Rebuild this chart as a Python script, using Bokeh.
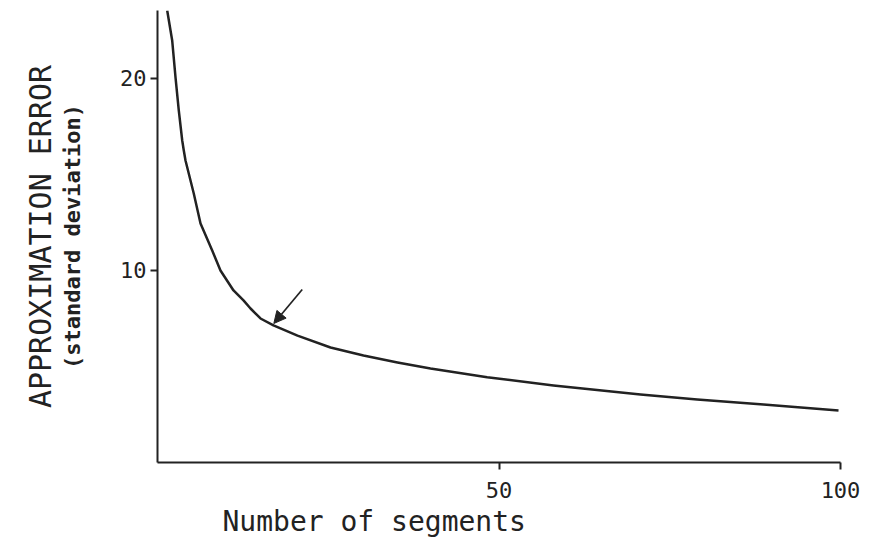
from bokeh.plotting import figure
from bokeh.models import Range1d, FixedTicker, Title, Arrow, NormalHead, ColumnDataSource, LinearAxis
from bokeh.embed import file_html
from bokeh.resources import INLINE

# Data
segments = [1.42, 2.15, 2.64, 3.12, 3.62, 3.85, 4.10, 5.31, 6.30, 8.01, 9.22, 11.13, 12.59, 13.62,
            15.08, 16.98, 20.5, 25.33, 30.16, 35.14, 39.97, 48.27, 57.98, 70.72, 79.02, 88.73, 99.71]
error = [23.54, 21.98, 20.05, 18.33, 16.77, 16.25, 15.73, 14.01, 12.45, 11.04, 10.0, 8.96, 8.44, 8.02,
         7.5, 7.14, 6.61, 5.99, 5.57, 5.21, 4.90, 4.44, 4.01, 3.54, 3.28, 3.02, 2.71]
x_ticks = [50, 100]
y_ticks = [10, 20]
arrow_from = (21.19, 9.01)
arrow_to = (17.03, 7.24)

FONT = "DejaVu Sans Mono"
INK = "#222222"

p = figure(frame_width=683, frame_height=452,
           x_range=Range1d(0, 100), y_range=Range1d(0, 23.54),
           output_backend="svg", toolbar_location=None,
           min_border_left=157, min_border_top=10, min_border_right=24, min_border_bottom=75)
p.background_fill_color = "white"
p.border_fill_color = "white"
p.outline_line_color = None
p.grid.visible = False

src = ColumnDataSource(dict(x=segments, y=error))
p.line("x", "y", source=src, line_color=INK, line_width=2.5, line_join="round")

p.add_layout(Arrow(end=NormalHead(size=12, fill_color=INK, line_color=INK),
                   x_start=arrow_from[0], y_start=arrow_from[1],
                   x_end=arrow_to[0], y_end=arrow_to[1],
                   line_color=INK, line_width=1.7))

for ax in (p.xaxis[0], p.yaxis[0]):
    ax.axis_line_color = INK
    ax.axis_line_width = 2
    ax.major_tick_line_color = INK
    ax.major_tick_line_width = 2
    ax.major_tick_in = 0
    ax.major_tick_out = 7
    ax.minor_tick_line_color = None
    ax.major_label_text_font = FONT
    ax.major_label_text_font_size = "22px"
    ax.major_label_text_color = INK

p.xaxis[0].ticker = FixedTicker(ticks=x_ticks)
p.yaxis[0].ticker = FixedTicker(ticks=y_ticks)
p.xaxis[0].major_label_standoff = 12
p.yaxis[0].major_label_standoff = 4

# subtitle as the label of the tick axis
yax = p.yaxis[0]
yax.axis_label = "(standard deviation)"
yax.axis_label_text_font = FONT
yax.axis_label_text_font_style = "bold"
yax.axis_label_text_font_size = "22px"
yax.axis_label_text_color = INK
yax.axis_label_standoff = 32

# main y title on an outer, otherwise invisible axis
outer = LinearAxis(ticker=FixedTicker(ticks=[]), axis_line_color=None,
                   major_tick_line_color=None, minor_tick_line_color=None,
                   major_tick_out=0, major_tick_in=0, major_label_standoff=0,
                   axis_label="APPROXIMATION ERROR", axis_label_standoff=0,
                   axis_label_text_font=FONT, axis_label_text_font_style="normal",
                   axis_label_text_font_size="30px", axis_label_text_color=INK)
p.add_layout(outer, "left")

# x-axis title
p.add_layout(Title(text="Number of segments", align="left", offset=65,
                   text_font=FONT, text_font_style="normal", text_font_size="28px",
                   text_color=INK, standoff=4), "below")

open("out.html", "w").write(file_html(p, INLINE))
